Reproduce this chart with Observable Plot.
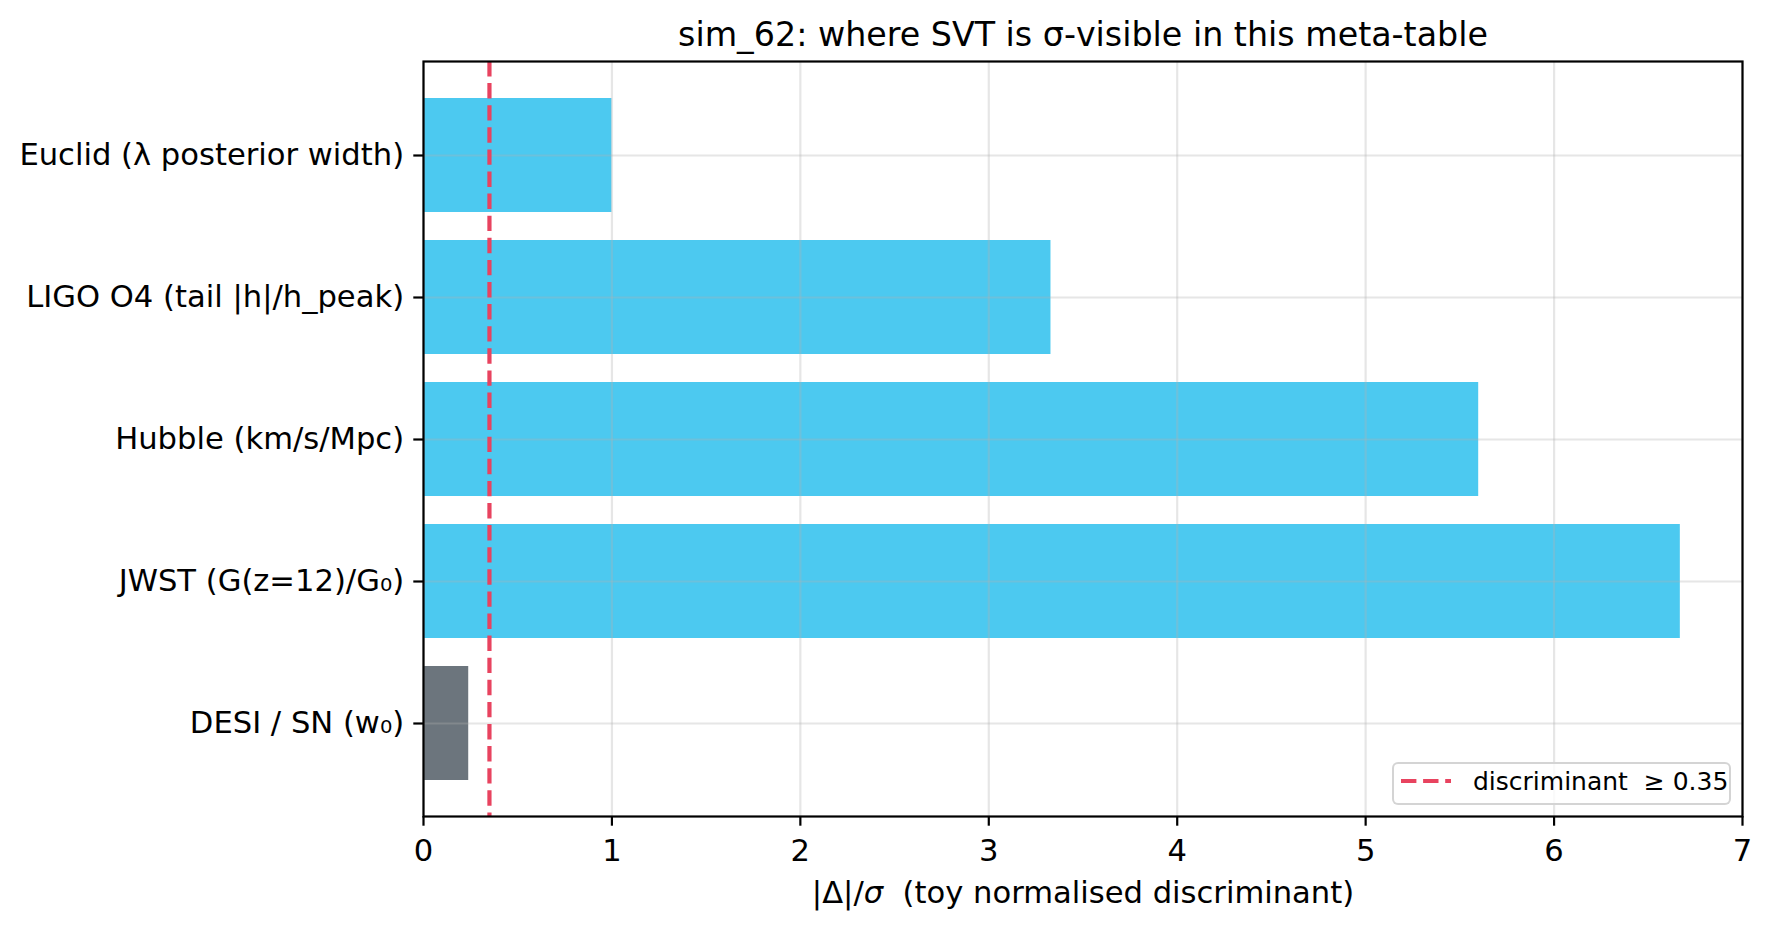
<!DOCTYPE html>
<html>
<head>
<meta charset="utf-8">
<script src="https://cdn.jsdelivr.net/npm/d3@7"></script>
<script src="https://cdn.jsdelivr.net/npm/@observablehq/plot@0.6"></script>
<style>
  html, body { margin: 0; padding: 0; background: #fff; overflow: hidden; }
  #wrap { position: relative; width: 1772px; height: 931px; font-family: "DejaVu Sans", sans-serif; }
  #legend {
    position: absolute; left: 1392px; top: 762px; width: 335px; height: 39px;
    border: 2px solid rgba(204,204,204,0.85); border-radius: 6px;
    background: rgba(255,255,255,0.8); box-sizing: content-box;
  }
  #legend svg { position: absolute; left: 0; top: 0; overflow: visible; }
</style>
</head>
<body>
<div id="wrap"></div>
<script>
// ---- data ----
const categories = [
  "Euclid (λ posterior width)",
  "LIGO O4 (tail |h|/h_peak)",
  "Hubble (km/s/Mpc)",
  "JWST (G(z=12)/G₀)",
  "DESI / SN (w₀)"
];
const values = [1.0, 3.33, 5.60, 6.67, 0.24];
const visible = [true, true, true, true, false];
const threshold = 0.35;
const xTicks = [0, 1, 2, 3, 4, 5, 6, 7];
const titleText = "sim_62: where SVT is σ-visible in this meta-table";
const xLabelParts = ["|Δ|/", "σ", "  (toy normalised discriminant)"];
const legendLabel = "discriminant  ≥ 0.35";

const colorOn = "#4cc9f0";
const colorOff = "#6c757d";
const colorLine = "#e8435f";

const rows = categories.map((c, i) => ({cat: c, value: values[i], on: visible[i]}));

const W = 1772, H = 931;
const fs = 30.6;

const plot = Plot.plot({
  width: W, height: H,
  marginLeft: 423, marginRight: 30, marginTop: 61, marginBottom: 115,
  style: {fontFamily: "DejaVu Sans, sans-serif", fontSize: fs + "px", color: "black", background: "white"},
  x: {domain: [0, 7], ticks: xTicks, label: null},
  y: {domain: categories, paddingInner: 0.2, paddingOuter: 0.24, label: null},
  marks: [
    Plot.barX(rows, {y: "cat", x: "value", fill: d => d.on ? colorOn : colorOff}),
    Plot.gridX(xTicks, {stroke: "#b0b0b0", strokeOpacity: 0.32, strokeWidth: 2.2}),
    Plot.gridY(categories, {stroke: "#b0b0b0", strokeOpacity: 0.32, strokeWidth: 2.2}),
    Plot.ruleX([threshold], {stroke: colorLine, strokeWidth: 4.2, strokeDasharray: "15.4,6.7"}),
    Plot.frame({stroke: "black", strokeWidth: 2.2}),
    Plot.axisX(xTicks, {tickSize: 9.7, tickPadding: 13, strokeWidth: 2.2, fontSize: fs, fill: "black", label: null, tickFormat: d3.format("d")}),
    Plot.axisY(categories, {tickSize: 9.7, tickPadding: 9.7, strokeWidth: 2.2, fontSize: fs, fill: "black", label: null}),
    Plot.text([titleText], {frameAnchor: "top", dy: -25.7, fontSize: 33.3, fill: "black", textAnchor: "middle", lineAnchor: "middle"}),
    Plot.text([xLabelParts.join("")], {frameAnchor: "bottom", dy: 77, fontSize: fs, fill: "black", textAnchor: "middle", lineAnchor: "middle", className: "xlab"})
  ]
});

document.getElementById("wrap").appendChild(plot);

// italic sigma in x label (mathtext style)
const xl = plot.querySelector(".xlab text");
if (xl) {
  xl.textContent = "";
  xl.setAttribute("style", "white-space: pre");
  xLabelParts.forEach((p, i) => {
    const ts = document.createElementNS("http://www.w3.org/2000/svg", "tspan");
    ts.textContent = p;
    if (i === 1) ts.setAttribute("font-style", "italic");
    xl.appendChild(ts);
  });
}

// legend (inside axes, lower right)
const lg = document.createElement("div");
lg.id = "legend";
lg.innerHTML = `<svg width="335" height="39">
  <line x1="7" x2="57" y1="17" y2="17" stroke="${colorLine}" stroke-width="4.2" stroke-dasharray="15.4,6.7"/>
  <text x="79" y="26" font-size="25" fill="black" style="white-space:pre" font-family="DejaVu Sans">${legendLabel}</text>
</svg>`;
document.getElementById("wrap").appendChild(lg);
</script>
</body>
</html>
